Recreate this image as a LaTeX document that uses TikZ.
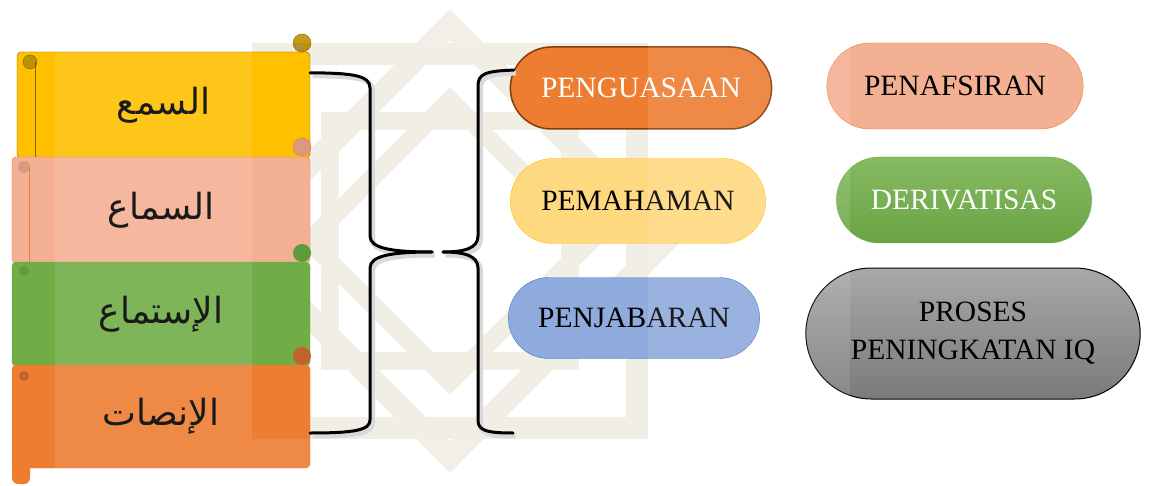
\documentclass[tikz,border=0pt]{standalone}
\usepackage{fontspec}
\setmainfont{Liberation Serif}
\newfontfamily\arabicfont[Script=Arabic]{DejaVu Sans}
\TeXXeTstate=1
\usetikzlibrary{shapes.misc,positioning,calc}

\definecolor{gold}{HTML}{FFC000}
\definecolor{goldline}{HTML}{7F6000}
\definecolor{goldroll}{HTML}{BF9000}
\definecolor{salmon}{HTML}{F4B093}
\definecolor{salmonroll}{HTML}{D99A80}
\definecolor{grn}{HTML}{70AD47}
\definecolor{grnroll}{HTML}{5F9B3C}
\definecolor{orng}{HTML}{ED7D31}
\definecolor{orngroll}{HTML}{C0642A}
\definecolor{brownline}{HTML}{843C0C}
\definecolor{lgold}{HTML}{FFD97F}
\definecolor{lblue}{HTML}{8FAADC}
\definecolor{blueline}{HTML}{4472C4}
\definecolor{wmbeige}{HTML}{F1EEE5}

\begin{document}
\begin{tikzpicture}[x=1pt,y=-1pt,
    scroll/.style={
% The shape:
rectangle, rounded corners=4pt,
% The size:
minimum height=106pt,
minimum width=298pt,
% The text:
font=\arabicfont\fontsize{36}{40}\selectfont,
},
    pill/.style={
% The shape:
rounded rectangle,
% The size:
minimum height=84pt,
minimum width=264pt,
% The border:
thin, draw,
% The text:
font=\fontsize{29.5}{38}\selectfont,
},
    brace/.style={line width=3pt, line cap=round, line join=round,
      preaction={draw=black!15, line width=5pt, transform canvas={shift={(2.5pt,-3pt)}}}},
]
  \useasboundingbox (0,0) rectangle (1150,486);

  % watermark
  \begin{scope}[draw=wmbeige]
    \draw[line width=22pt] (263,54) rectangle (637,428);
    \draw[line width=22pt] (450,25) -- (666,241) -- (450,457) -- (234,241) -- cycle;
    \draw[line width=18pt] (450,100) -- (591,241) -- (450,382) -- (309,241) -- cycle;
    \draw[line width=18pt] (330,121) rectangle (570,361);
  \end{scope}

  % scrolls
  \node[scroll, fill=gold, draw=goldline, minimum width=293pt] (samc) at (163.5,105) {\beginR السمع\endR};
  \filldraw[fill=goldroll, draw=goldline] (302,43) circle (9);
  \fill[goldline!70] (299,47) circle (3.5);
  \filldraw[fill=goldroll, draw=goldline] (30,62) circle (7);
  \draw[goldline, line width=1pt] (35,62) -- (35,158);

  \node[scroll, fill=salmon, draw=orng] (sama) at (161,210) {\beginR السماع\endR};
  \filldraw[fill=salmonroll, draw=orng] (302,147) circle (9);
  \fill[salmonroll] (24,167) circle (6);
  \draw[orng] (29,167) -- (29,263);

  \node[scroll, fill=grn, draw=grn, minimum height=104pt] (isti) at (161,314) {\beginR الإستماع\endR};
  \fill[grnroll] (302,253) circle (9);
  \fill[grnroll] (24,271) circle (5);

  \node[scroll, fill=orng, draw=orng, minimum height=103pt] (insh) at (161,416.5) {\beginR الإنصات\endR};
  \fill[orngroll] (302,356) circle (9);
  \fill[orngroll] (24,376) circle (5);
  \fill[orng, rounded corners=6pt] (12,450) rectangle (30,484);

  % ovals
  \node[pill, fill=orng, draw=brownline, line width=1.5pt, text=white, minimum width=268pt, minimum height=82pt] (peng) at (641,88) {PENGUASAAN};
  \node[pill, fill=lgold, draw=gold, minimum width=262pt, minimum height=85pt] (pema) at (638,201) {PEMAHAMAN};
  \node[pill, fill=lblue, draw=blueline, minimum width=258pt, minimum height=81pt] (penj) at (634,318) {PENJABARAN};
  \node[pill, fill=salmon, draw=orng, minimum width=263pt, minimum height=86pt] (pena) at (955,86) {PENAFSIRAN};
  \node[pill, top color=grn!85!white, bottom color=grn!95!black, draw=grn, text=white, minimum width=262pt, minimum height=86pt] (deri) at (964,200) {DERIVATISAS};
  \node[pill, top color=black!34, bottom color=black!52, draw=black, line width=1pt, minimum width=341pt, minimum height=131pt, align=center] (pros) at (973,333.5) {PROSES\\PENINGKATAN IQ};

  % braces
  \coordinate (ltip) at (432,252);
  \coordinate (rtip) at (443,252);
  \coordinate (rend) at (513,433);
  \draw[brace] ($(samc.north east)+(0,21)$) .. controls (355,73) and (370,76) .. (370,88) -- (370,236) .. controls (370,248) and (390,252) .. (ltip);
  \draw[brace] (ltip) .. controls (390,252) and (370,256) .. (370,268) -- (370,420) .. controls (370,430) and (355,433) .. ($(insh.east)+(0,16.5)$);
  \draw[brace] (peng.172) .. controls (485,71) and (478,74) .. (478,86) -- (478,236) .. controls (478,248) and (465,252) .. (rtip);
  \draw[brace] (rtip) .. controls (465,252) and (478,256) .. (478,268) -- (478,420) .. controls (478,430) and (485,433) .. (rend);

  \fill[white, opacity=0.1, even odd rule] (55,0) rectangle (850,486) (252,43) rectangle (648,439);
\end{tikzpicture}
\end{document}
